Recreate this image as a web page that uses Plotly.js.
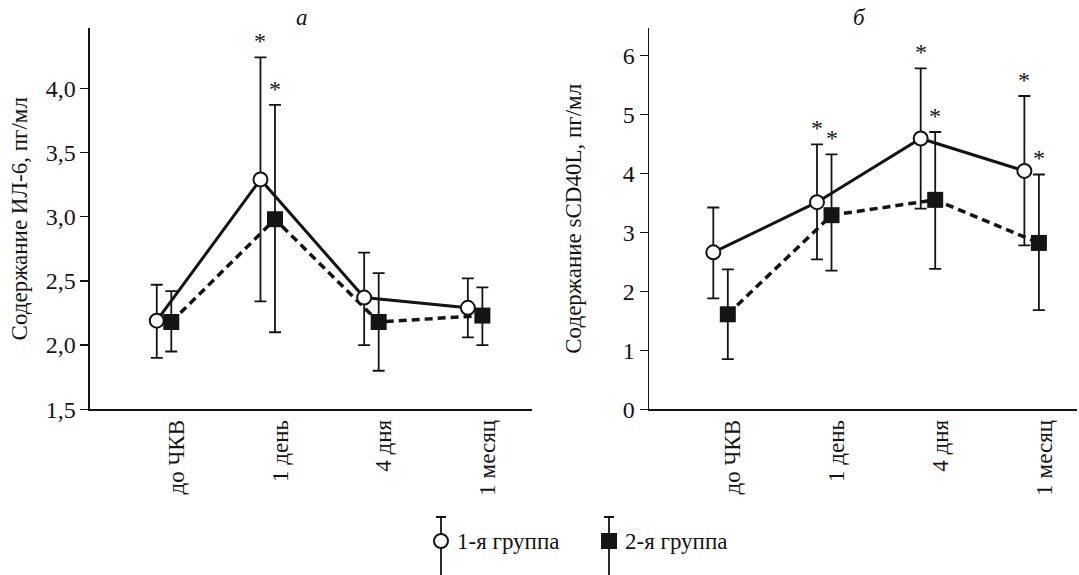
<!DOCTYPE html>
<html>
<head>
<meta charset="utf-8">
<script src="https://cdn.plot.ly/plotly-3.0.1.min.js"></script>
<style>html,body{margin:0;padding:0;background:#fff;}#chart{width:1079px;height:575px;}</style>
</head>
<body>
<div id="chart"></div>
<script>
// ---------- data ----------
const categories = ['до ЧКВ', '1 день', '4 дня', '1 месяц'];

// Panel а: IL-6, pg/ml
const il6Group1      = [2.19, 3.29, 2.37, 2.29];
const il6Group1High  = [2.47, 4.24, 2.72, 2.52];
const il6Group1Low   = [1.90, 2.34, 2.00, 2.06];
const il6Group2      = [2.18, 2.98, 2.18, 2.23];
const il6Group2High  = [2.42, 3.87, 2.56, 2.45];
const il6Group2Low   = [1.95, 2.10, 1.80, 2.00];
const il6Group1Sig   = [false, true, false, false];
const il6Group2Sig   = [false, true, false, false];
const il6TickVals    = [1.5, 2.0, 2.5, 3.0, 3.5, 4.0];
const il6TickText    = ['1,5', '2,0', '2,5', '3,0', '3,5', '4,0'];

// Panel б: sCD40L, pg/ml
const cdGroup1       = [2.66, 3.51, 4.59, 4.04];
const cdGroup1High   = [3.42, 4.49, 5.78, 5.31];
const cdGroup1Low    = [1.88, 2.54, 3.40, 2.78];
const cdGroup2       = [1.61, 3.29, 3.55, 2.82];
const cdGroup2High   = [2.37, 4.32, 4.70, 3.98];
const cdGroup2Low    = [0.85, 2.35, 2.38, 1.68];
const cdGroup1Sig    = [false, true, true, true];
const cdGroup2Sig    = [false, true, true, true];
const cdTickVals     = [0, 1, 2, 3, 4, 5, 6];
const cdTickText     = ['0', '1', '2', '3', '4', '5', '6'];

const seriesNames = ['1-я группа', '2-я группа'];
const panelTitles = ['а', 'б'];
const yTitles = ['Содержание ИЛ-6, пг/мл', 'Содержание sCD40L, пг/мл'];

// ---------- style ----------
const INK = '#141414';
const FONT = 'Liberation Serif, "Times New Roman", serif';
const FS = 23;
const TICKFS = 24;
const offset1 = -0.19, offset2 = -0.05;
const idx = categories.map((_, i) => i);

const circleMarker = {symbol: 'circle', size: 14, color: '#ffffff', line: {color: INK, width: 2}};
const squareMarker = {symbol: 'square', size: 16, color: INK, line: {color: INK, width: 0}};

function groupTrace(vals, hi, lo, off, xa, ya, isG1) {
  return {
    type: 'scatter', mode: 'lines+markers',
    x: idx.map(i => i + off), y: vals,
    xaxis: xa, yaxis: ya, cliponaxis: false,
    line: isG1 ? {color: INK, width: 3} : {color: INK, width: 3.5, dash: '8px,5px'},
    marker: isG1 ? circleMarker : squareMarker,
    error_y: {type: 'data', symmetric: false,
      array: hi.map((h, i) => h - vals[i]),
      arrayminus: lo.map((l, i) => vals[i] - l),
      color: INK, thickness: 1.8, width: 6},
    hoverinfo: 'x+y', showlegend: false
  };
}

const traces = [
  groupTrace(il6Group2, il6Group2High, il6Group2Low, offset2, 'x', 'y', false),
  groupTrace(il6Group1, il6Group1High, il6Group1Low, offset1, 'x', 'y', true),
  groupTrace(cdGroup2, cdGroup2High, cdGroup2Low, offset2, 'x2', 'y2', false),
  groupTrace(cdGroup1, cdGroup1High, cdGroup1Low, offset1, 'x2', 'y2', true)
];

// legend drawn on its own hidden axis (x3/y3 in pixel-like units)
const legendY = 34, legendUp = 24, legendDown = 40;
const legendX = [441, 609];
[true, false].forEach((isG1, k) => {
  traces.push({
    type: 'scatter', mode: 'markers', x: [legendX[k]], y: [legendY],
    xaxis: 'x3', yaxis: 'y3', cliponaxis: false,
    marker: isG1 ? circleMarker : squareMarker,
    error_y: {type: 'data', symmetric: false, array: [legendUp], arrayminus: [legendDown],
      color: INK, thickness: 1.8, width: 5},
    hoverinfo: 'skip', showlegend: false
  });
});

const annotations = [];
function stars(sig, hi, off, xa, ya) {
  sig.forEach((s, i) => {
    if (!s) return;
    annotations.push({x: i + off, y: hi[i], xref: xa, yref: ya, text: '*', showarrow: false,
      yanchor: 'middle', yshift: 16, font: {family: FONT, size: 24, color: INK}});
  });
}
stars(il6Group1Sig, il6Group1High, offset1, 'x', 'y');
stars(il6Group2Sig, il6Group2High, offset2, 'x', 'y');
stars(cdGroup1Sig, cdGroup1High, offset1, 'x2', 'y2');
stars(cdGroup2Sig, cdGroup2High, offset2, 'x2', 'y2');

annotations.push({xref: 'x domain', yref: 'y domain', x: 0.48, y: 1, yanchor: 'bottom', yshift: -4,
  text: '<i>' + panelTitles[0] + '</i>', showarrow: false, font: {family: FONT, size: FS, color: INK}});
annotations.push({xref: 'x2 domain', yref: 'y2 domain', x: 0.493, y: 1, yanchor: 'bottom', yshift: -4,
  text: '<i>' + panelTitles[1] + '</i>', showarrow: false, font: {family: FONT, size: FS, color: INK}});

legendX.forEach((lx, k) => {
  annotations.push({xref: 'x3', yref: 'y3', x: lx + 14, y: legendY, xanchor: 'left', yanchor: 'middle',
    text: seriesNames[k], showarrow: false, font: {family: FONT, size: FS, color: INK}});
});

function xAxis(domain, range, anchor) {
  return {domain, range, anchor, tickmode: 'array', tickvals: idx, ticktext: categories,
    tickangle: -90, ticks: '', showline: true, linewidth: 1.5, linecolor: INK,
    showgrid: false, zeroline: false, tickfont: {family: FONT, size: FS, color: INK}, fixedrange: true};
}
function yAxis(domain, range, anchor, vals, text, title, standoff) {
  return {domain, range, anchor, tickmode: 'array', tickvals: vals, ticktext: text,
    ticks: 'outside', ticklen: 8, tickwidth: 1.5, tickcolor: INK,
    showline: true, linewidth: 1.5, linecolor: INK, showgrid: false, zeroline: false,
    tickfont: {family: FONT, size: TICKFS, color: INK},
    title: {text: title, standoff, font: {family: FONT, size: FS, color: INK}}, fixedrange: true};
}

const yDom = [0.2882, 0.9508];
const layout = {
  width: 1079, height: 575,
  margin: {l: 0, r: 0, t: 0, b: 0},
  paper_bgcolor: '#ffffff', plot_bgcolor: '#ffffff',
  showlegend: false,
  font: {family: FONT, size: FS, color: INK},
  xaxis: xAxis([0.0834, 0.4930], [-0.834, 3.428], 'y'),
  yaxis: yAxis(yDom, [1.5, 4.467], 'x', il6TickVals, il6TickText, yTitles[0], 11),
  xaxis2: xAxis([0.6015, 0.9981], [-0.81, 3.317], 'y2'),
  yaxis2: yAxis(yDom, [0, 6.458], 'x2', cdTickVals, cdTickText, yTitles[1], 34),
  xaxis3: {domain: [0, 1], range: [0, 1079], anchor: 'y3', visible: false, fixedrange: true},
  yaxis3: {domain: [0, 0.12], range: [0, 69], anchor: 'x3', visible: false, fixedrange: true},
  annotations
};

Plotly.newPlot('chart', traces, layout, {displayModeBar: false, staticPlot: true});
</script>
</body>
</html>
